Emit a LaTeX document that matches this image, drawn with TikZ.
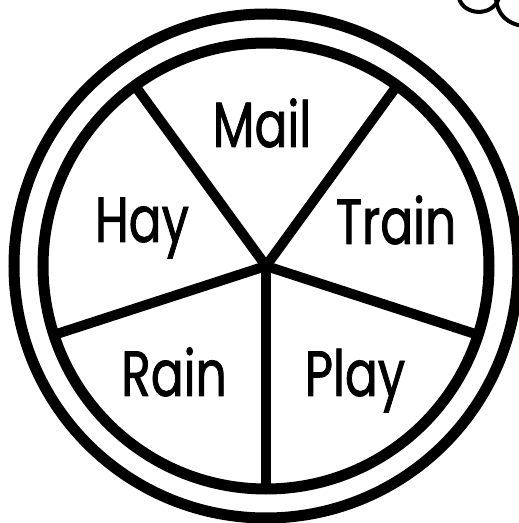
\documentclass[tikz,border=0pt]{standalone}
\usepackage{fontspec}
\newfontfamily\wordfont[FakeStretch=0.76,FakeBold=1.2]{Poppins}
\usetikzlibrary{positioning}

\begin{document}
\begin{tikzpicture}[
    x=1pt, y=1pt,
    ring/.style={
        draw,
        line width=11pt
    },
    spoke/.style={
        line width=10pt
    },
    word/.style={
        anchor=base,
        inner sep=0pt,
        font=\wordfont\fontsize{64}{64}\selectfont
    },
    cloud/.style={
        line width=4pt
    }
]
\useasboundingbox (0,0) rectangle (519,523);
\clip (0,0) rectangle (519,523);
\coordinate (hub) at (266,257);
% wheel
\draw[ring] (hub) circle (252);
\draw[ring] (hub) circle (223);
\foreach \a in {54,126,198,270,342}
    \draw[spoke] (hub) -- ++(\a:223);
% words
\node[word] (mail) at (262,376) {Mail};
\node[word] (hay) at (142,281) {Hay};
\node[word] (train) at (396,279) {Train};
\node[word] (rain) at (174,127) {Rain};
\node[word] (play) at (355,127) {Play};
% thought cloud
\draw[cloud] (459,525) .. controls (463,508) and (492,505) .. (499,525);
\draw[cloud] (496,525) .. controls (497,508) and (508,499) .. (523,497);
\end{tikzpicture}
\end{document}
